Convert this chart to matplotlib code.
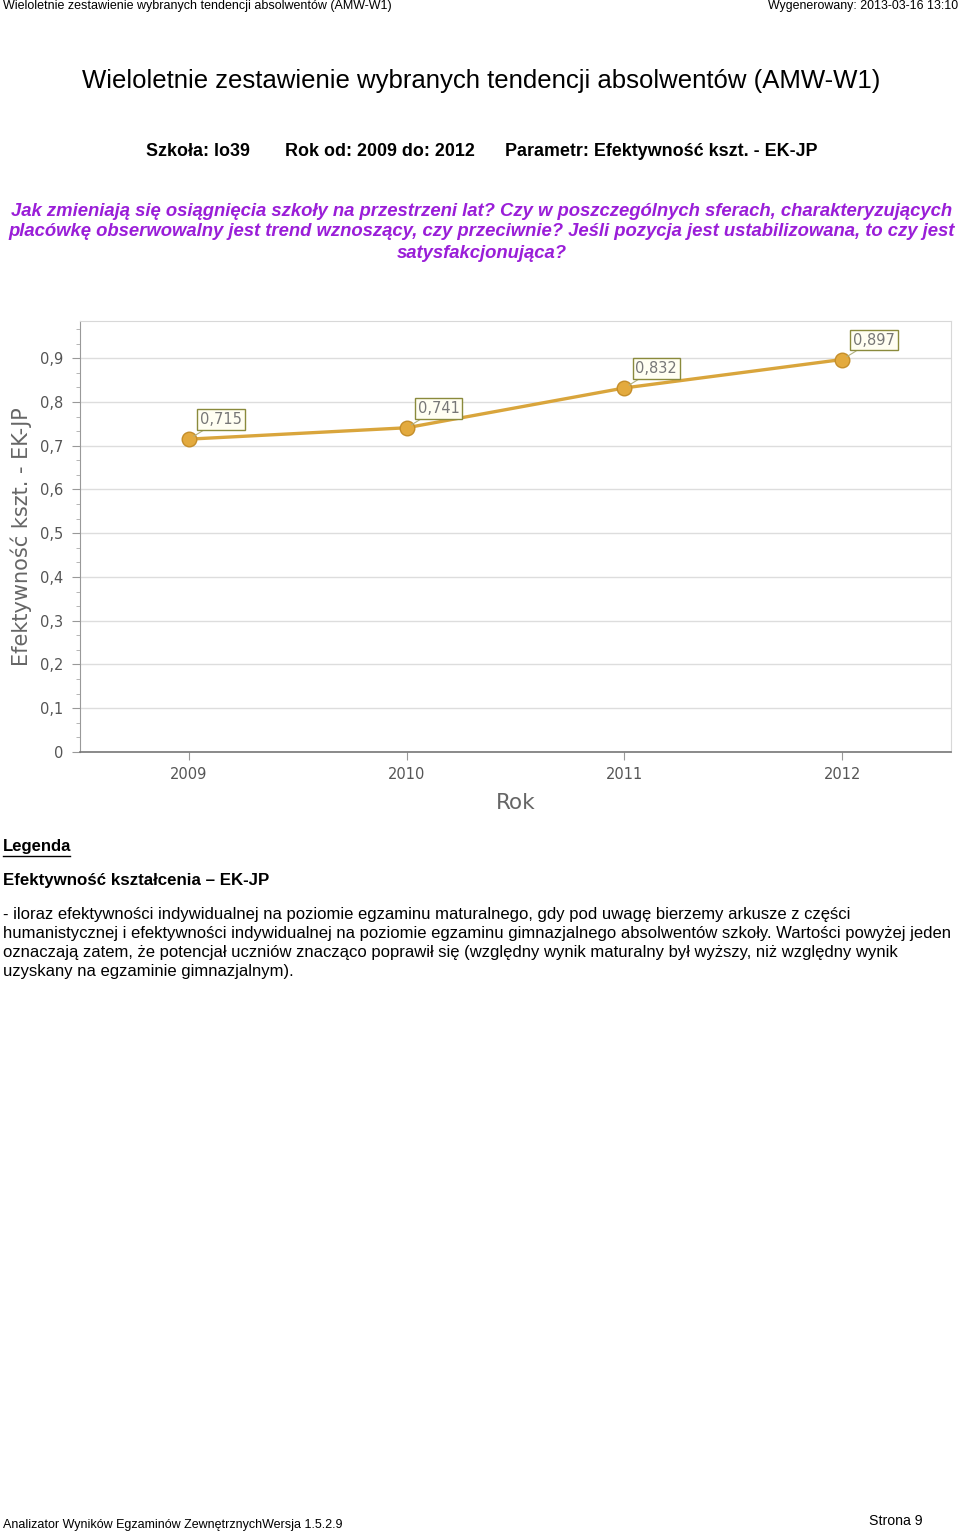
import matplotlib
matplotlib.use('Agg')
import matplotlib.pyplot as plt
from matplotlib.ticker import AutoMinorLocator, FuncFormatter

# dane
years = ['2009', '2010', '2011', '2012']
values = [0.715, 0.741, 0.832, 0.897]
y_ticks = [0, 0.1, 0.2, 0.3, 0.4, 0.5, 0.6, 0.7, 0.8, 0.9]

W, H = 960, 1534
fig = plt.figure(figsize=(W / 100, H / 100), dpi=100)
fig.patch.set_facecolor('white')

SANS = ['Liberation Sans', 'DejaVu Sans']
PURPLE = '#9a1ed8'


def px(x, y):
    return x / W, 1 - y / H


def txt(x, y, s, **kw):
    kw.setdefault('family', SANS)
    fig.text(*px(x, y), s, **kw)


# naglowek strony
txt(3, 6, 'Wieloletnie zestawienie wybranych tendencji absolwentów (AMW-W1)',
    fontsize=9.0, va='center', ha='left')
txt(958, 6, 'Wygenerowany: 2013-03-16 13:10', fontsize=8.9, va='center', ha='right')

# tytul
txt(481, 81, 'Wieloletnie zestawienie wybranych tendencji absolwentów (AMW-W1)',
    fontsize=18.5, ha='center', va='center')

txt(146, 152, 'Szkoła: lo39', fontsize=12.9, weight='bold', va='center')
txt(285, 152, 'Rok od: 2009 do: 2012', fontsize=12.9, weight='bold', va='center')
txt(505, 152, 'Parametr: Efektywność kszt. - EK-JP', fontsize=12.9, weight='bold', va='center')

question = [
    'Jak zmieniają się osiągnięcia szkoły na przestrzeni lat? Czy w poszczególnych sferach, charakteryzujących',
    'placówkę obserwowalny jest trend wznoszący, czy przeciwnie? Jeśli pozycja jest ustabilizowana, to czy jest',
    'satysfakcjonująca?',
]
for i, line in enumerate(question):
    txt(482, 211 + i * 21, line, fontsize=13.3, weight='bold', style='italic',
        color=PURPLE, ha='center', va='center')

# wykres
ax = fig.add_axes([80 / W, 1 - 752 / H, 871 / W, (752 - 321) / H])
x = list(range(len(years)))
ax.plot(x, values, color='#d9a53c', linewidth=2.4, zorder=3,
        marker='o', markersize=10.5, markerfacecolor='#e3aa3e',
        markeredgecolor='#c58e2a', markeredgewidth=1)

for xi, v in zip(x, values):
    ax.annotate(f'{v:.3f}'.replace('.', ','), xy=(xi, v), xytext=(23, 14),
                textcoords='offset points', ha='center', va='center',
                fontsize=10.5, color='#777777', family=['DejaVu Sans'],
                bbox=dict(boxstyle='square,pad=0.2', fc='#fffef2', ec='#8a8a3c', lw=1),
                arrowprops=dict(arrowstyle='-', color='#b0b080', lw=0.8,
                                shrinkA=0, shrinkB=4), zorder=4)

ax.set_xlim(-0.5, 3.5)
ax.set_ylim(0, 0.985)
ax.set_xticks(x)
ax.set_xticklabels(years)
ax.set_yticks(y_ticks)
ax.yaxis.set_major_formatter(FuncFormatter(lambda v, p: '0' if v == 0 else f'{v:.1f}'.replace('.', ',')))
ax.yaxis.set_minor_locator(AutoMinorLocator(3))
ax.grid(axis='y', color='#dddddd', linewidth=1)
ax.set_axisbelow(True)

for s in ['top', 'right']:
    ax.spines[s].set_color('#d8d8d8')
ax.spines['left'].set_color('#999999')
ax.spines['bottom'].set_color('#777777')
ax.spines['bottom'].set_linewidth(1.2)

ax.tick_params(axis='y', which='major', length=6, color='#999999', labelsize=10.5,
               labelcolor='#555555', pad=6)
ax.tick_params(axis='y', which='minor', length=3, color='#aaaaaa')
ax.tick_params(axis='x', length=6, color='#999999', labelsize=10.5, labelcolor='#555555', pad=5)

ax.set_xlabel('Rok', fontsize=15.5, color='#666666', labelpad=8)
ax.set_ylabel('Efektywność kszt. - EK-JP', fontsize=15, color='#666666')
ax.yaxis.set_label_coords(-48 / 871, 0.5)

# legenda
txt(3, 847, 'Legenda', fontsize=12, weight='bold', va='center')
fig.add_artist(plt.Line2D([3 / W, 70 / W], [1 - 856 / H, 1 - 856 / H], color='black', lw=1))
txt(3, 880, 'Efektywność kształcenia – EK-JP', fontsize=12.2, weight='bold', va='center')

desc = [
    '- iloraz efektywności indywidualnej na poziomie egzaminu maturalnego, gdy pod uwagę bierzemy arkusze z części',
    'humanistycznej i efektywności indywidualnej na poziomie egzaminu gimnazjalnego absolwentów szkoły. Wartości powyżej jeden',
    'oznaczają zatem, że potencjał uczniów znacząco poprawił się (względny wynik maturalny był wyższy, niż względny wynik',
    'uzyskany na egzaminie gimnazjalnym).',
]
for i, line in enumerate(desc):
    txt(3, 914 + i * 19.3, line, fontsize=11.95, va='center')

# stopka
txt(3, 1525, 'Analizator Wyników Egzaminów ZewnętrznychWersja 1.5.2.9', fontsize=9.0, va='center')
txt(869, 1521, 'Strona 9', fontsize=10.2, va='center')

fig.savefig('out.png', dpi=100, facecolor='white')
